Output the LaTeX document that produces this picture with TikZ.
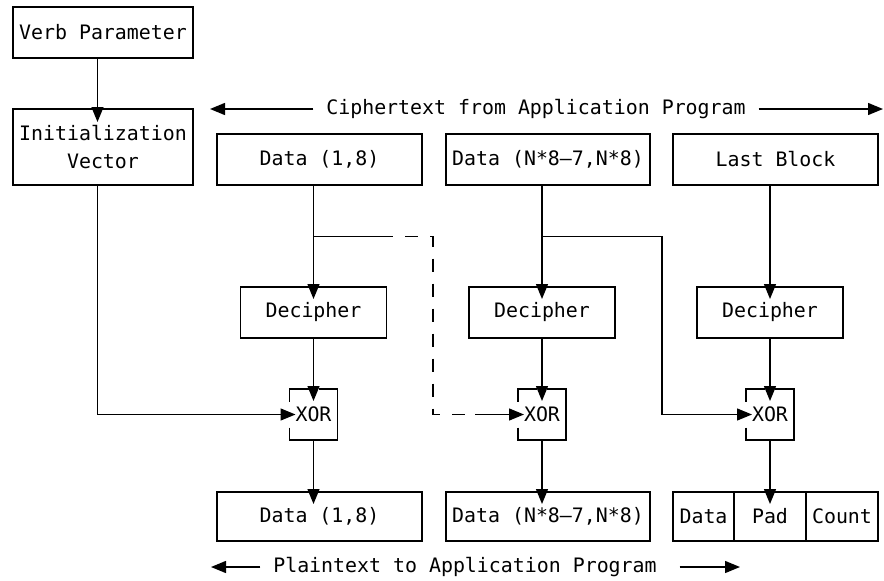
\documentclass[tikz,border=0pt]{standalone}
\usepackage{fontspec}
\setmonofont{DejaVu Sans Mono}
\usetikzlibrary{arrows.meta}

\tikzset{
    box/.style={draw,line width=1.4pt,inner sep=0pt,outer sep=0pt,minimum height=51pt},
    xorcell/.style={inner sep=0pt,outer sep=0pt,minimum width=48pt,minimum height=51pt},
    lbl/.style={inner sep=13pt,outer sep=0pt},
    wire/.style={line width=1.4pt},
    tip/.tip={Triangle[length=15pt,width=12pt]},
    flow/.style={wire,-tip},
    gapped/.style={wire,dash pattern=on 13pt off 12pt,dash phase=12pt},
}

\begin{document}
\begin{tikzpicture}[x=1pt,y=-1pt,font=\ttfamily\fontsize{19.9pt}{28pt}\selectfont]
    \useasboundingbox (0,0) rectangle (884,581);
    \coordinate (c0) at (97.5,0);
    \coordinate (c1) at (313.5,0);
    \coordinate (c2) at (542,0);
    \coordinate (c3) at (770,0);

    \node[box,minimum width=180pt] (verb) at (103,32.5) {Verb Parameter};
    \node[box,minimum width=180pt,minimum height=76pt,align=center] (iv) at (103,147) {Initialization\\Vector};

    \node[lbl] (ctext) at (536,109) {Ciphertext from Application Program};
    \coordinate (cl) at (210,109);
    \coordinate (cr) at (883,109);
    \draw[flow] (ctext.west) -- (cl);
    \draw[flow] (ctext.east) -- (cr);

    \node[box,minimum width=205pt] (d1) at (319.5,159.5) {Data (1,8)};
    \node[box,minimum width=204pt] (d2) at (548,159.5) {Data (N*8—7,N*8)};
    \node[box,minimum width=205pt] (d3) at (775.5,159.5) {Last Block};

    \node[box,minimum width=146pt] (dec1) at (313.5,312.5) {Decipher};
    \node[box,minimum width=146pt] (dec2) at (542,312.5) {Decipher};
    \node[box,minimum width=146pt] (dec3) at (770,312.5) {Decipher};

    \node[xorcell] (xor1) at (313.5,414.5) {XOR};
    \node[xorcell] (xor2) at (542,414.5) {XOR};
    \node[xorcell] (xor3) at (770,414.5) {XOR};
    \draw[wire] ([yshift=-13pt]xor1.west) -- (xor1.south west) -- (xor1.south east) -- (xor1.north east) -- ([xshift=5pt]xor1.north);
    \draw[wire] ([xshift=-5pt]xor1.north) -- (xor1.north west) -- ([yshift=13pt]xor1.west);
    \draw[wire] ([yshift=-13pt]xor2.west) -- (xor2.south west) -- (xor2.south east) -- (xor2.north east) -- ([xshift=5pt]xor2.north);
    \draw[wire] ([xshift=-5pt]xor2.north) -- (xor2.north west) -- ([yshift=13pt]xor2.west);
    \draw[wire] ([yshift=-13pt]xor3.west) -- (xor3.south west) -- (xor3.south east) -- (xor3.north east) -- ([xshift=5pt]xor3.north);
    \draw[wire] ([xshift=-5pt]xor3.north) -- (xor3.north west) -- ([yshift=13pt]xor3.west);

    \node[box,minimum width=205pt,minimum height=49pt] (b1) at (319.5,516.5) {Data (1,8)};
    \node[box,minimum width=204pt,minimum height=49pt] (b2) at (548,516.5) {Data (N*8—7,N*8)};
    \node[box,minimum width=61pt,minimum height=49pt] (bdata) at (703.5,516.5) {Data};
    \node[box,minimum width=72pt,minimum height=49pt] (bpad) at (770,516.5) {Pad};
    \node[box,minimum width=72pt,minimum height=49pt] (bcount) at (842,516.5) {Count};

    \node[lbl] (ptext) at (465,567) {Plaintext to Application Program};
    \coordinate (pl) at (211,567);
    \coordinate (pr) at (740,567);
    \draw[flow] (ptext.west) -- (pl);
    \draw[flow] ([xshift=10pt]ptext.east) -- (pr);

    \draw[flow] (verb.south -| c0) -- ([yshift=-13pt]iv.north -| c0);
    \draw[flow] (d1.south -| c1) -- ([yshift=-12pt]dec1.north);
    \draw[flow] (d2.south -| c2) -- ([yshift=-12pt]dec2.north);
    \draw[flow] (d3.south -| c3) -- ([yshift=-12pt]dec3.north);
    \draw[flow] (dec1.south) -- ([yshift=-12pt]xor1.north);
    \draw[flow] (dec2.south) -- ([yshift=-12pt]xor2.north);
    \draw[flow] (dec3.south) -- ([yshift=-12pt]xor3.north);
    \draw[flow] (xor1.south) -- ([yshift=-12pt]b1.north -| c1);
    \draw[flow] (xor2.south) -- ([yshift=-12pt]b2.north -| c2);
    \draw[flow] (xor3.south) -- ([yshift=-12pt]bpad.north);

    \draw[flow] (iv.south -| c0) |- ([xshift=6pt]xor1.west);

    \coordinate (j1) at (313.5,236.5);
    \coordinate (k1) at (392,236.5);
    \coordinate (k2) at (433,236.5);
    \coordinate (k3) at (433,414.5);
    \coordinate (k4) at (475,414.5);
    \draw[wire] (j1) -- (k1);
    \draw[gapped] (k1) -- (k2) -- (k3) -- (k4);
    \draw[flow] (k4) -- ([xshift=6pt]xor2.west);

    \coordinate (j2) at (542,236.5);
    \coordinate (m2) at (662,236.5);
    \draw[flow] (j2) -- (m2) |- ([xshift=6pt]xor3.west);

\end{tikzpicture}
\end{document}
